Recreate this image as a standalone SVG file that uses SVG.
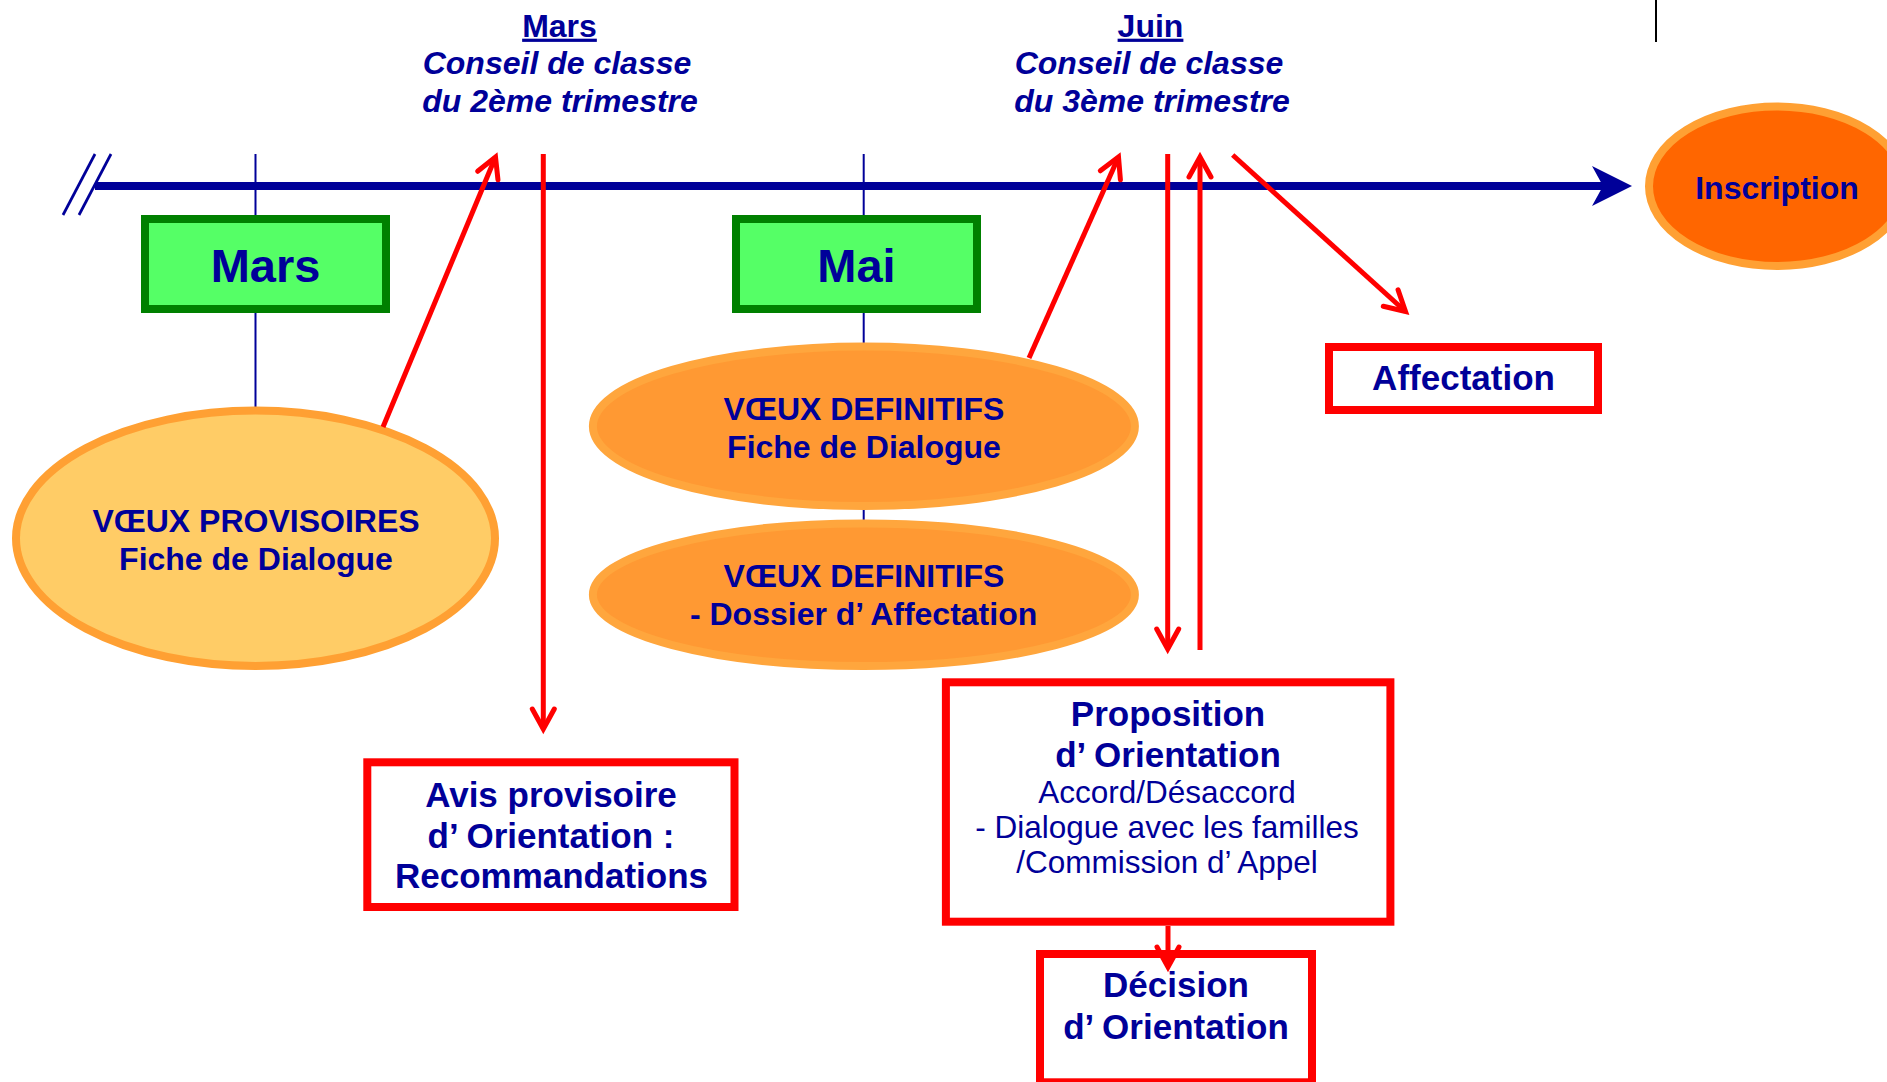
<svg xmlns="http://www.w3.org/2000/svg" width="1887" height="1082" viewBox="0 0 1887 1082">
<defs>
<style>
.t{font-family:"Liberation Sans",Arial,sans-serif;fill:#000099;text-anchor:middle}
.hd{font-size:32px;font-weight:bold;text-decoration:underline}
.it{font-size:32px;font-weight:bold;font-style:italic}
.e{font-size:32px;font-weight:bold}
.bx{font-size:35px;font-weight:bold}
.rg{font-size:31.5px;font-weight:normal}
.gbox{fill:#55FF66;stroke:#008000;stroke-width:8}
.rbox{fill:#FFFFFF;stroke:#FF0000;stroke-width:8}
.tick{stroke:#000099;stroke-width:2}
.arr{stroke:#FF0000;stroke-width:5;fill:none;marker-end:url(#ah)}
</style>
<marker id="ah" markerUnits="userSpaceOnUse" markerWidth="40" markerHeight="40" viewBox="-30 -20 40 40" refX="0" refY="0" orient="auto" overflow="visible"><path d="M-20,-11 L0,0 L-20,11" fill="none" stroke="#FF0000" stroke-width="5" stroke-linecap="round"/></marker>
</defs>
<rect x="0" y="0" width="1887" height="1082" fill="#FFFFFF"/>

<g id="timeline">
<line x1="95" y1="186" x2="1604" y2="186" stroke="#000099" stroke-width="8"/>
<polygon points="1592,166 1632,186 1592,206 1603,186" fill="#000099"/>
<line x1="95" y1="154" x2="63" y2="215" stroke="#000099" stroke-width="2.7"/>
<line x1="111" y1="154" x2="79" y2="215" stroke="#000099" stroke-width="2.7"/>
<line class="tick" x1="255.5" y1="154" x2="255.5" y2="215"/>
<line class="tick" x1="255.5" y1="313" x2="255.5" y2="408"/>
<line class="tick" x1="863.7" y1="154" x2="863.7" y2="215"/>
<line class="tick" x1="863.7" y1="313" x2="863.7" y2="344"/>
<line class="tick" x1="863.7" y1="507" x2="863.7" y2="538"/>
<line x1="1656" y1="0" x2="1656" y2="42" stroke="#000000" stroke-width="2"/>
</g>

<g id="head-mars">
<text class="t hd" x="559.5" y="36.7">Mars</text>
<text class="t it" x="557" y="74">Conseil de classe</text>
<text class="t it" x="560" y="111.5">du 2ème trimestre</text>
</g>
<g id="head-juin">
<text class="t hd" x="1150.5" y="36.7">Juin</text>
<text class="t it" x="1149" y="74">Conseil de classe</text>
<text class="t it" x="1152" y="111.5">du 3ème trimestre</text>
</g>

<g id="box-mars">
<rect class="gbox" x="145" y="219" width="241" height="90"/>
<text class="t" x="265.5" y="281.7" font-size="47" font-weight="bold">Mars</text>
</g>
<g id="box-mai">
<rect class="gbox" x="736" y="219" width="241" height="90"/>
<text class="t" x="856.5" y="281.7" font-size="47" font-weight="bold">Mai</text>
</g>

<g id="inscription">
<ellipse cx="1777" cy="186.3" rx="128" ry="79.7" fill="#FF6600" stroke="#FFA033" stroke-width="8"/>
<text class="t e" x="1777" y="199">Inscription</text>
</g>

<g id="voeux-provisoires">
<ellipse cx="255.5" cy="538.3" rx="239.5" ry="127.7" fill="#FFCC66" stroke="#FFA033" stroke-width="8"/>
<text class="t e" x="256" y="531.7">VŒUX PROVISOIRES</text>
<text class="t e" x="256" y="570">Fiche de Dialogue</text>
</g>

<g id="voeux-definitifs-1">
<ellipse cx="863.9" cy="426.3" rx="271" ry="79.7" fill="#FF9933" stroke="#FFA63D" stroke-width="8"/>
<text class="t e" x="864" y="420">VŒUX DEFINITIFS</text>
<text class="t e" x="864" y="458.3">Fiche de Dialogue</text>
</g>

<g id="voeux-definitifs-2">
<ellipse cx="863.9" cy="594.7" rx="271" ry="71.3" fill="#FF9933" stroke="#FFA63D" stroke-width="8"/>
<text class="t e" x="864" y="586.7">VŒUX DEFINITIFS</text>
<text class="t e" x="863.6" y="625">- Dossier d’ Affectation</text>
</g>

<g id="affectation">
<rect class="rbox" x="1329" y="347" width="269" height="63"/>
<text class="t bx" x="1463.5" y="390">Affectation</text>
</g>

<g id="avis">
<rect class="rbox" x="367.3" y="762.3" width="367.2" height="144.7"/>
<text class="t bx" x="551" y="806.7">Avis provisoire</text>
<text class="t bx" x="551" y="848.3">d’ Orientation :</text>
<text class="t bx" x="551.5" y="888.3">Recommandations</text>
</g>

<g id="proposition">
<rect class="rbox" x="945.9" y="682.3" width="444.5" height="239.4"/>
<text class="t bx" x="1168" y="725.7">Proposition</text>
<text class="t bx" x="1168" y="767.3">d’ Orientation</text>
<text class="t rg" x="1167" y="803.3">Accord/Désaccord</text>
<text class="t rg" x="1167" y="838.3">- Dialogue avec les familles</text>
<text class="t rg" x="1167" y="873.3">/Commission d’ Appel</text>
</g>

<g id="decision">
<rect class="rbox" x="1040" y="954" width="272" height="128.3"/>
<text class="t bx" x="1176" y="996.7">Décision</text>
<text class="t bx" x="1176" y="1039.3">d’ Orientation</text>
</g>

<g id="connectors">
<line class="arr" x1="383" y1="427" x2="495.5" y2="157"/>
<line class="arr" x1="543.3" y1="154" x2="543.3" y2="729"/>
<line class="arr" x1="1029" y1="358" x2="1118.5" y2="157"/>
<line class="arr" x1="1167.7" y1="154" x2="1167.7" y2="649"/>
<line class="arr" x1="1200" y1="650" x2="1200" y2="157"/>
<line class="arr" x1="1232.7" y1="155" x2="1405.5" y2="311.5"/>
<line class="arr" x1="1168" y1="926" x2="1168" y2="967"/>
</g>
</svg>
